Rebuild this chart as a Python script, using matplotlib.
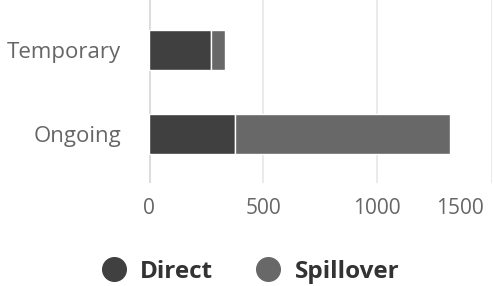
import numpy as np
import matplotlib
matplotlib.use('Agg')
import matplotlib.pyplot as plt
import matplotlib.transforms as mtransforms
from matplotlib.lines import Line2D

# data:
categories = ['Ongoing', 'Temporary']
direct = [377, 270]
spillover = [943, 65]
x_ticks = [0, 500, 1000, 1500]

# colors:
c_direct = '#404040'
c_spill = '#686868'
c_text = '#666666'

plt.rcParams['font.family'] = ['Open Sans', 'DejaVu Sans']

fig = plt.figure(figsize=(4.93, 2.86), dpi=100)
ax = fig.add_axes([149/493, 1 - 183/286, (491.5 - 149)/493, 183/286])

y = np.arange(len(categories))
ax.barh(y, direct, height=0.48, color=c_direct, edgecolor='white', linewidth=1.0, zorder=3)
ax.barh(y, spillover, left=direct, height=0.48, color=c_spill, edgecolor='white', linewidth=1.0, zorder=3)

ax.set_xlim(0, 1500)
ax.set_ylim(-0.583, 1.595)

# grid:
for t in x_ticks:
    ax.axvline(t, color='#dddddd' if t == 0 else '#e6e6e6', lw=2.2 if t == 0 else 1.2, zorder=1)
for s in ax.spines.values():
    s.set_visible(False)

ax.set_xticks(x_ticks)
ax.set_xticklabels([str(t) for t in x_ticks], fontsize=15, color=c_text)
ax.set_yticks(y)
ax.set_yticklabels(categories, fontsize=16, color=c_text)
ax.tick_params(axis='both', length=0)
ax.tick_params(axis='x', pad=11)
ax.tick_params(axis='y', pad=20)

# last x label is pulled inside the figure:
lab = ax.get_xticklabels()[-1]
lab.set_transform(lab.get_transform() + mtransforms.ScaledTranslation(-32/100, 0, fig.dpi_scale_trans))

# legend:
handles = [Line2D([], [], ls='', marker='o', ms=17, color=c_direct),
           Line2D([], [], ls='', marker='o', ms=17, color=c_spill)]
leg = fig.legend(handles=handles, labels=['Direct', 'Spillover'], loc='center',
                 bbox_to_anchor=(0.508, 1 - 272/286), ncol=2, frameon=False,
                 prop={'family': 'Open Sans', 'weight': 'bold', 'size': 17.5},
                 handletextpad=0.6, columnspacing=1.75, handlelength=1.0)
for t in leg.get_texts():
    t.set_color('#333333')

fig.savefig('out.png', dpi=100)
